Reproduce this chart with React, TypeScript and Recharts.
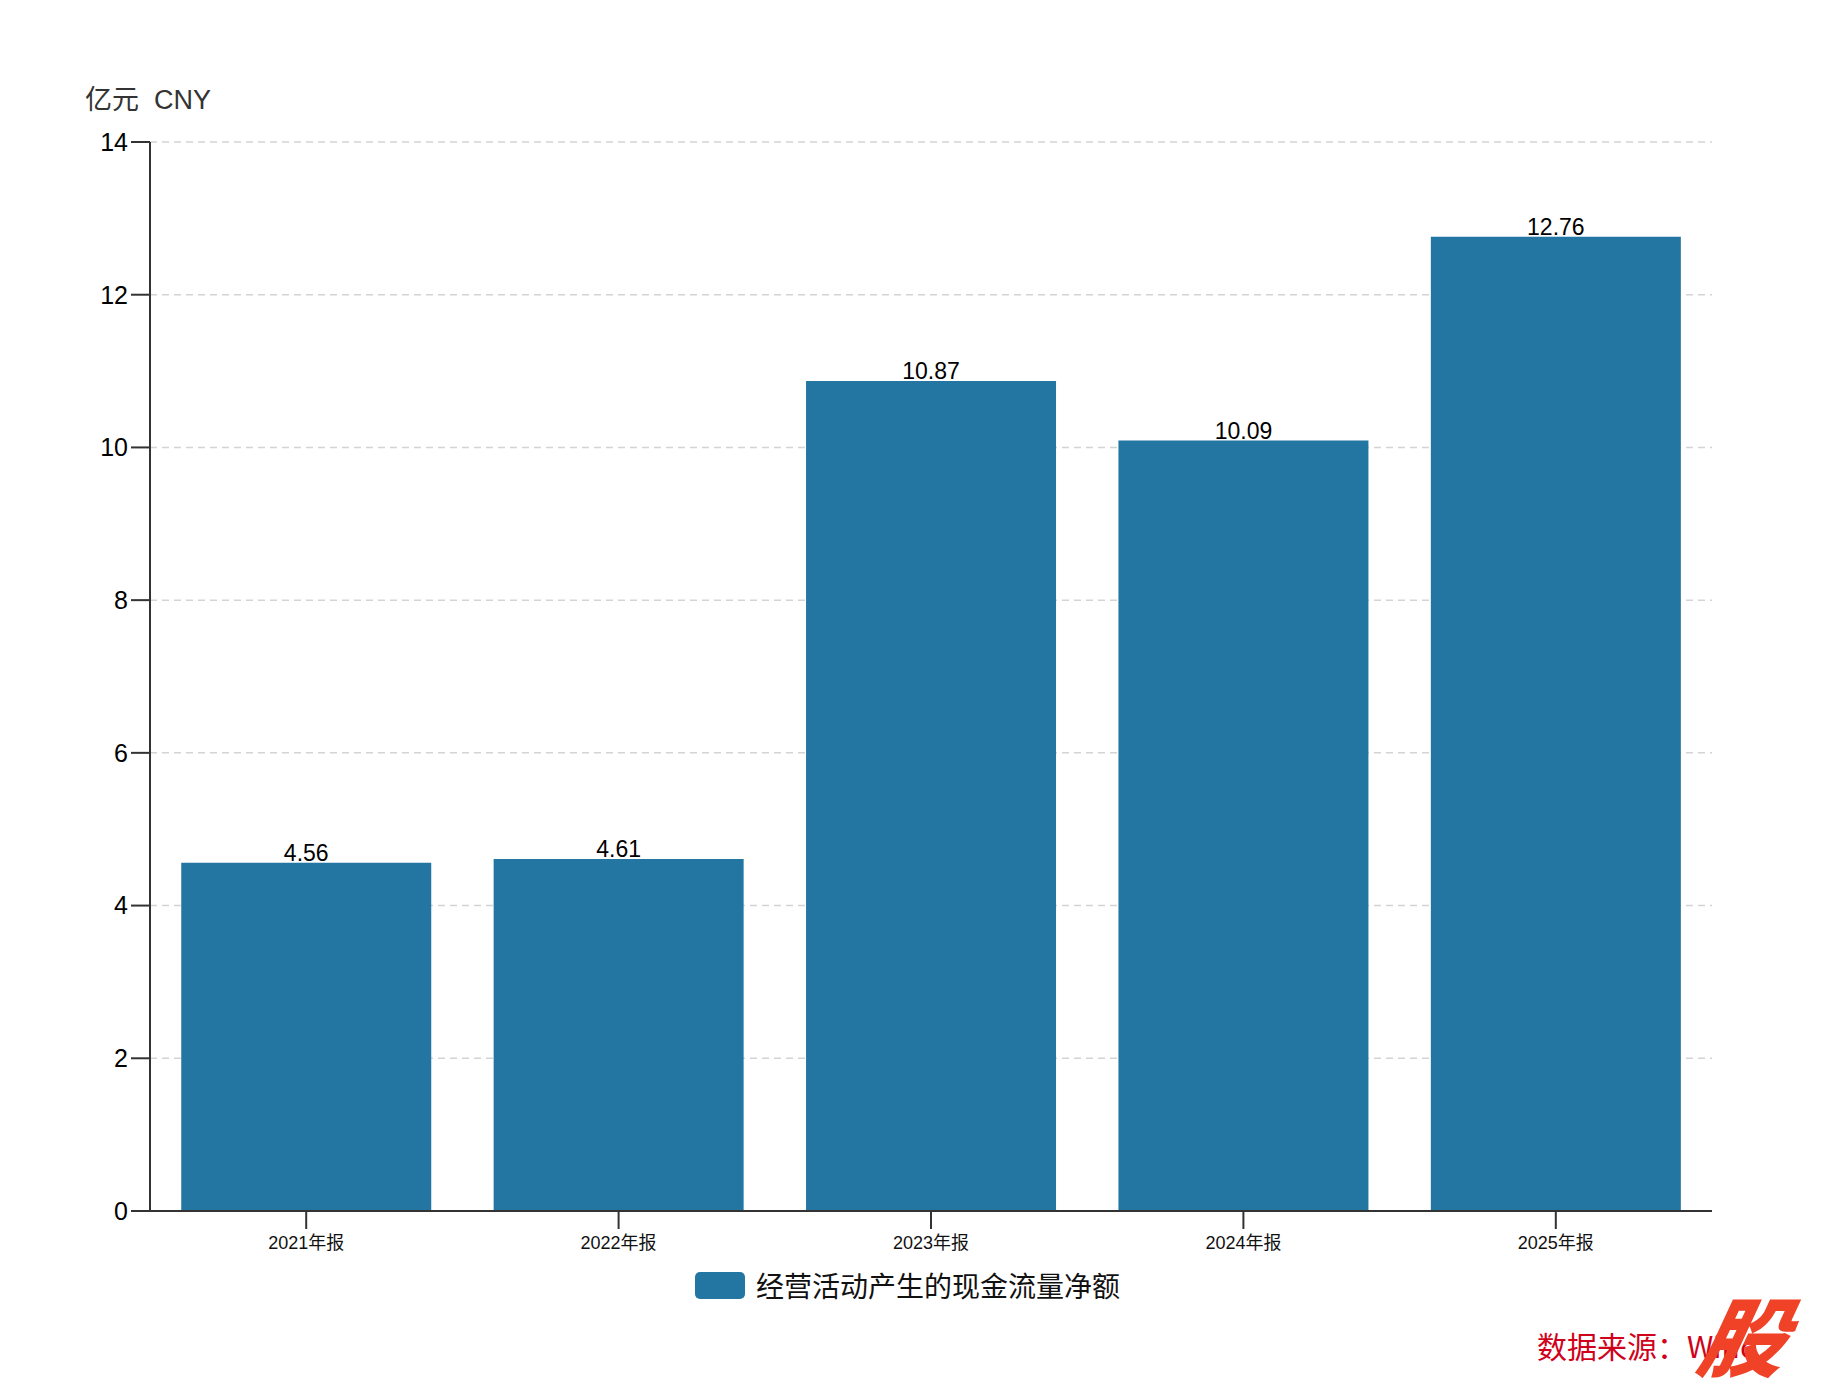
import React from "react";
import { BarChart, Bar, XAxis, YAxis, CartesianGrid, LabelList } from "recharts";

const categories = ["2021年报", "2022年报", "2023年报", "2024年报", "2025年报"];
const netCashFlow = [4.56, 4.61, 10.87, 10.09, 12.76];
const yTicks = [0, 2, 4, 6, 8, 10, 12, 14];
const seriesName = "经营活动产生的现金流量净额";

const data = categories.map((c, i) => ({ period: c, value: netCashFlow[i] }));

const FONT = '"Liberation Sans", "Noto Sans CJK SC", sans-serif';
const BAR_COLOR = "#2376a2";

export default function App() {
  return (
    <div
      style={{
        position: "absolute",
        left: 0,
        top: 0,
        width: 1822,
        height: 1396,
        background: "#fff",
        fontFamily: FONT,
      }}
    >
      <div
        style={{
          position: "absolute",
          left: 85,
          top: 78,
          fontSize: 27,
          color: "#333",
          whiteSpace: "pre",
        }}
      >
        亿元  CNY
      </div>

      <BarChart
        width={1822}
        height={1396}
        data={data}
        margin={{ top: 142, right: 110, left: 90, bottom: 135 }}
        barCategoryGap="10%"
      >
        <CartesianGrid
          vertical={false}
          stroke="#d4d4d4"
          strokeDasharray="7 5"
          strokeWidth={1.5}
        />
        <XAxis
          dataKey="period"
          height={50}
          tickSize={18}
          tickMargin={7}
          stroke="#333"
          strokeWidth={2}
          tick={{ fill: "#111", fontSize: 18, fontFamily: FONT }}
        />
        <YAxis
          width={60}
          domain={[0, 14]}
          ticks={yTicks}
          tickSize={19}
          tickMargin={3}
          stroke="#333"
          strokeWidth={2}
          tick={{ fill: "#000", fontSize: 25, fontFamily: FONT }}
        />
        <Bar dataKey="value" name={seriesName} fill={BAR_COLOR} isAnimationActive={false}>
          <LabelList
            dataKey="value"
            position="top"
            offset={2}
            fill="#000"
            fontSize={23}
            fontFamily={FONT}
            formatter={(v: number) => v.toFixed(2)}
          />
        </Bar>
      </BarChart>

      <div
        style={{
          position: "absolute",
          left: 695,
          top: 1272,
          display: "flex",
          alignItems: "center",
        }}
      >
        <div
          style={{
            width: 50,
            height: 27,
            borderRadius: 5,
            background: BAR_COLOR,
            marginRight: 11,
          }}
        />
        <span
          style={{
            fontSize: 28,
            lineHeight: "27px",
            color: "#111",
            fontFamily: '"Noto Sans CJK SC", sans-serif',
          }}
        >
          {seriesName}
        </span>
      </div>

      <div
        style={{
          position: "absolute",
          left: 1537,
          top: 1326,
          fontSize: 30,
          color: "#d0021b",
          fontFamily: '"Noto Sans CJK SC", sans-serif',
          whiteSpace: "pre",
          lineHeight: "38px",
        }}
      >
        数据来源：Wind
      </div>
      <div
        style={{
          position: "absolute",
          left: 1702,
          top: 1283,
          fontSize: 86,
          fontWeight: 900,
          fontStyle: "italic",
          color: "#ef4227",
          fontFamily: '"Noto Sans CJK SC", sans-serif',
          lineHeight: "100px",
          transform: "skewX(-12deg)",
        }}
      >
        股
      </div>
    </div>
  );
}
